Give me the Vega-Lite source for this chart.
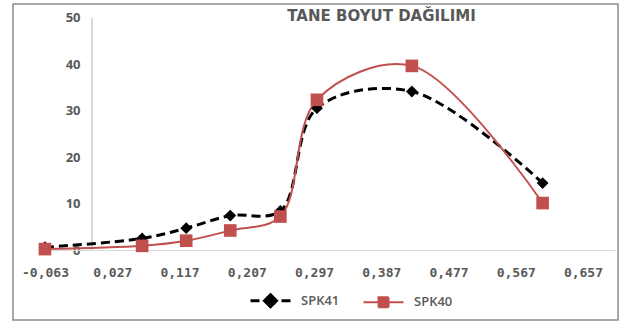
{
  "$schema": "https://vega.github.io/schema/vega-lite/v6.json",
  "width": 605,
  "height": 316,
  "autosize": {"type": "none"},
  "padding": {"left": 13, "top": 4, "right": 1, "bottom": 2},
  "background": "white",
  "config": {
    "view": {"stroke": "#8c8c8c", "strokeWidth": 1.5},
    "axis": {"grid": false, "domain": false, "ticks": false, "tickSize": 0, "labelColor": "#595959", "labelFont": "Open Sans", "labelFontWeight": "bold", "labelFontSize": 13, "title": null}
  },
  "title": {
    "text": "TANE BOYUT DAĞILIMI",
    "font": "DejaVu Sans",
    "fontSize": 15,
    "fontWeight": "bold",
    "color": "#595959",
    "anchor": "middle",
    "frame": "group",
    "baseline": "alphabetic",
    "offset": 0,
    "dx": 66,
    "dy": 32
  },
  "data": {
    "values": [
      {"size": -0.063, "value": 0.7, "series": "SPK41"},
      {"size": 0.067, "value": 2.6, "series": "SPK41"},
      {"size": 0.126, "value": 4.8, "series": "SPK41"},
      {"size": 0.185, "value": 7.5, "series": "SPK41"},
      {"size": 0.252, "value": 8.5, "series": "SPK41"},
      {"size": 0.301, "value": 30.6, "series": "SPK41"},
      {"size": 0.428, "value": 34.2, "series": "SPK41"},
      {"size": 0.603, "value": 14.5, "series": "SPK41"},
      {"size": -0.063, "value": 0.3, "series": "SPK40"},
      {"size": 0.067, "value": 1.0, "series": "SPK40"},
      {"size": 0.126, "value": 2.1, "series": "SPK40"},
      {"size": 0.185, "value": 4.3, "series": "SPK40"},
      {"size": 0.252, "value": 7.3, "series": "SPK40"},
      {"size": 0.301, "value": 32.4, "series": "SPK40"},
      {"size": 0.428, "value": 39.7, "series": "SPK40"},
      {"size": 0.603, "value": 10.2, "series": "SPK40"}
    ]
  },
  "layer": [
    {
      "mark": {"type": "rule", "color": "#d9d9d9", "strokeWidth": 1},
      "encoding": {
        "x": {"datum": -0.063, "type": "quantitative", "scale": {"domain": [-0.1058, 0.7039], "nice": false, "zero": false}, "axis": {"orient": "bottom", "offset": -70, "labelPadding": 16, "values": [-0.063, 0.027, 0.117, 0.207, 0.297, 0.387, 0.477, 0.567, 0.657], "labelExpr": "(datum.value < 0 ? '-' : '') + replace(format(abs(datum.value), '.3f'), '.', ',')", "labelFont": "DejaVu Sans Mono", "labelFontSize": 13, "labelFontWeight": "bold"}},
        "x2": {"datum": 0.7},
        "y": {"datum": 0, "type": "quantitative", "scale": {"domain": [-14.95, 53.01], "nice": false, "zero": false}, "axis": {"orient": "left", "offset": -79, "labelPadding": 12, "values": [0, 10, 20, 30, 40, 50]}}
      }
    },
    {
      "mark": {"type": "rule", "color": "#d9d9d9", "strokeWidth": 1},
      "encoding": {
        "x": {"datum": 0, "type": "quantitative"},
        "y": {"datum": 0, "type": "quantitative"},
        "y2": {"datum": 50}
      }
    },
    {
      "transform": [{"filter": "datum.series === 'SPK41'"}],
      "mark": {"type": "line", "interpolate": "catmull-rom", "strokeDash": [9, 5], "strokeWidth": 3},
      "encoding": {
        "x": {"field": "size", "type": "quantitative"},
        "y": {"field": "value", "type": "quantitative"},
        "color": {"field": "series", "type": "nominal", "scale": {"domain": ["SPK41", "SPK40"], "range": ["#000000", "#C0504D"]},
          "legend": {
            "orient": "none", "legendX": 251, "legendY": 290, "direction": "horizontal", "title": null,
            "symbolSize": 1600, "symbolStrokeWidth": 2.5, "symbolDash": [1, 0], "columnPadding": 19, "labelOffset": 24, "padding": 0,
            "labelFont": "Open Sans", "labelFontSize": 13, "labelFontWeight": 600, "labelColor": "#595959",
            "encode": {"symbols": {"update": {
              "shape": {"signal": "datum.value === 'SPK41' ? 'M-1,0H-0.55M0.55,0H1M-0.3,0L0,-0.3L0.3,0L0,0.3Z' : 'M-1,0H1M-0.25,-0.25H0.25V0.25H-0.25Z'"},
              "fill": {"signal": "datum.value === 'SPK41' ? '#000000' : '#C0504D'"},
              "stroke": {"signal": "datum.value === 'SPK41' ? '#000000' : '#C0504D'"},
              "strokeWidth": {"signal": "datum.value === 'SPK41' ? 3 : 2"},
              "opacity": {"value": 1}
            }}}
          }}
      }
    },
    {
      "transform": [{"filter": "datum.series === 'SPK40'"}],
      "mark": {"type": "line", "interpolate": "catmull-rom", "strokeWidth": 2},
      "encoding": {
        "x": {"field": "size", "type": "quantitative"},
        "y": {"field": "value", "type": "quantitative"},
        "color": {"field": "series", "type": "nominal"}
      }
    },
    {
      "transform": [{"filter": "datum.series === 'SPK41'"}],
      "mark": {"type": "point", "filled": true, "opacity": 1, "shape": "diamond", "size": 140, "color": "#000000"},
      "encoding": {
        "x": {"field": "size", "type": "quantitative"},
        "y": {"field": "value", "type": "quantitative"}
      }
    },
    {
      "transform": [{"filter": "datum.series === 'SPK40'"}],
      "mark": {"type": "point", "filled": true, "opacity": 1, "shape": "square", "size": 160, "color": "#C0504D"},
      "encoding": {
        "x": {"field": "size", "type": "quantitative"},
        "y": {"field": "value", "type": "quantitative"}
      }
    }
  ]
}
